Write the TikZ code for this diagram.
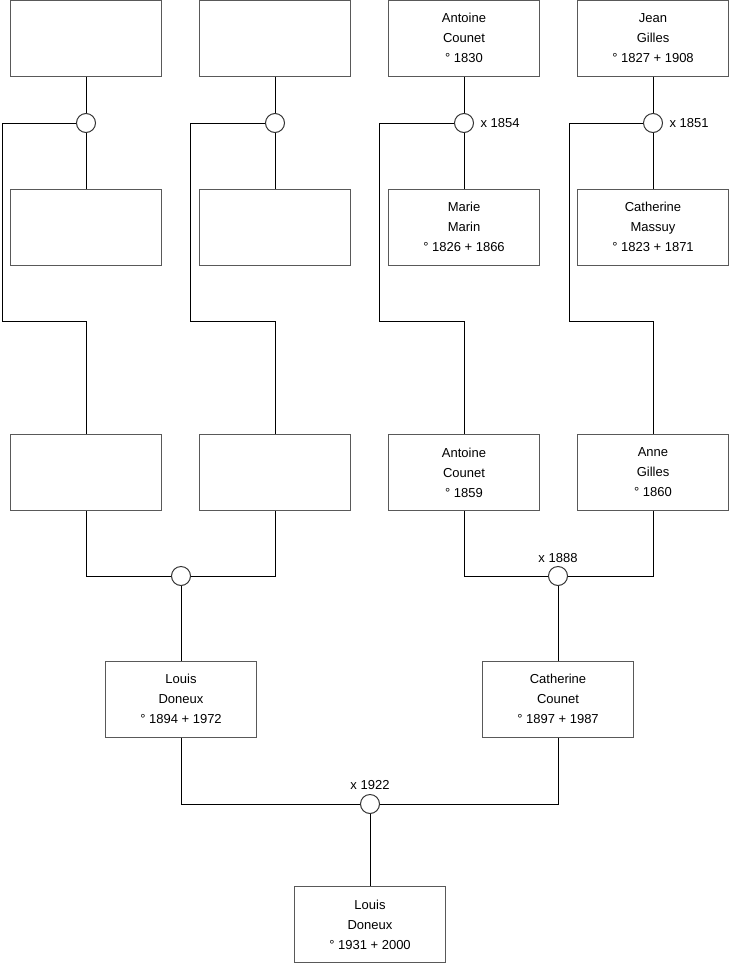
\documentclass[tikz,border=0pt]{standalone}
\usepackage{fontspec}
\setmainfont{Liberation Sans}
\usepackage{tikz}

\begin{document}
\begin{tikzpicture}[x=1pt, y=-1pt, line width=1pt,
  person/.style={draw=black!65, rectangle, minimum width=151pt,
    minimum height=76pt, align=center, inner sep=0pt,
    font=\fontsize{13}{20}\selectfont},
  wed/.style={draw=black!80, circle, minimum size=19pt, inner sep=0pt, fill=white},
  year/.style={font=\fontsize{13}{16}\selectfont, inner sep=0pt}]
  \useasboundingbox (0,0) rectangle (740,975);
  % great-grandparents
  \node[person] (gg1) at (86,38)  {};
  \node[person] (gg2) at (275,38) {};
  \node[person] (gg3) at (464,38) {Antoine\\ Counet\\ ° 1830};
  \node[person] (gg4) at (653,38) {Jean\\ Gilles\\ ° 1827 + 1908};
  \node[person] (gm1) at (86,227)  {};
  \node[person] (gm2) at (275,227) {};
  \node[person] (gm3) at (464,227) {Marie\\ Marin\\ ° 1826 + 1866};
  \node[person] (gm4) at (653,227) {Catherine\\ Massuy\\ ° 1823 + 1871};
  \node[wed] (w1) at (86,123)  {};
  \node[wed] (w2) at (275,123) {};
  \node[wed] (w3) at (464,123) {};
  \node[wed] (w4) at (653,123) {};
  % grandparents
  \node[person] (g1) at (86,472.5)  {};
  \node[person] (g2) at (275,472.5) {};
  \node[person] (g3) at (464,472.5) {Antoine\\ Counet\\ ° 1859};
  \node[person] (g4) at (653,472.5) {Anne\\ Gilles\\ ° 1860};
  \node[wed] (w5) at (181,576) {};
  \node[wed] (w6) at (558,576) {};
  % parents
  \node[person] (p1) at (181,699) {Louis\\ Doneux\\ ° 1894 + 1972};
  \node[person] (p2) at (558,699) {Catherine\\ Counet\\ ° 1897 + 1987};
  \node[wed] (w7) at (370,804) {};
  \node[person] (me) at (370,924.5) {Louis\\ Doneux\\ ° 1931 + 2000};
  % dates of marriage
  \node[year, anchor=west] (y3) at (480,123) {x 1854};
  \node[year, anchor=west] (y4) at (669,123) {x 1851};
  \node[year] (y6) at (558,558) {x 1888};
  \node[year] (y7) at (370,785) {x 1922};
  % links
  \draw (gg1) -- (w1) -- (gm1);
  \draw (gg2) -- (w2) -- (gm2);
  \draw (gg3) -- (w3) -- (gm3);
  \draw (gg4) -- (w4) -- (gm4);
  \draw (w1) -- (2,123) |- (86,321) -- (g1);
  \draw (w2) -- (190,123) |- (275,321) -- (g2);
  \draw (w3) -- (379,123) |- (464,321) -- (g3);
  \draw (w4) -- (569,123) |- (653,321) -- (g4);
  \draw (g1) |- (w5);
  \draw (g2) |- (w5);
  \draw (g3) |- (w6);
  \draw (g4) |- (w6);
  \draw (w5) -- (p1);
  \draw (w6) -- (p2);
  \draw (p1) |- (w7);
  \draw (p2) |- (w7);
  \draw (w7) -- (me);
\end{tikzpicture}
\end{document}
